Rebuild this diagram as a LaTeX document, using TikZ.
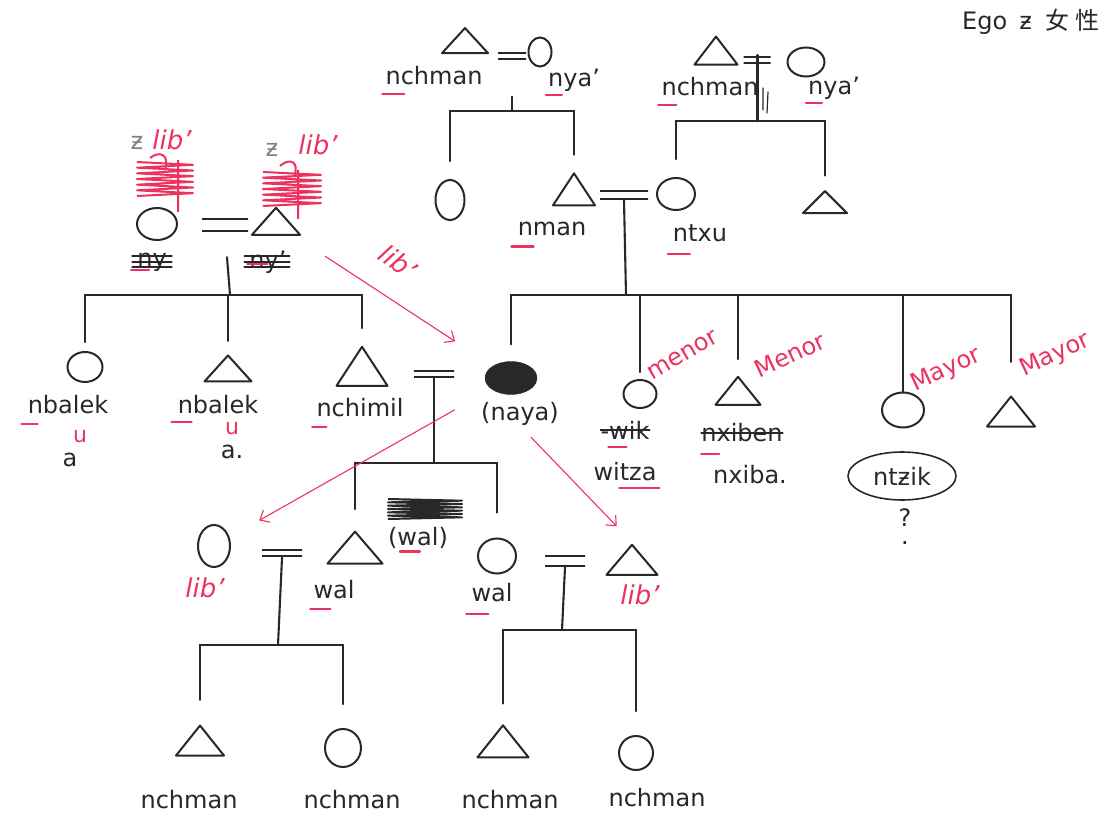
\documentclass[tikz,border=0pt]{standalone}
\usepackage{fontspec}
\setmainfont{DejaVu Sans}
\newfontfamily\cjk{Noto Sans CJK SC}
\usetikzlibrary{shapes.geometric,arrows.meta}
\definecolor{ink}{RGB}{40,40,40}
\definecolor{pen}{RGB}{236,50,95}
\tikzset{
  kin/.style={draw=ink, line width=2.1pt, line cap=round},
  male/.style={draw=ink, line width=2pt, line join=round, isosceles triangle, isosceles triangle stretches, shape border rotate=90, inner sep=0pt},
  female/.style={draw=ink, line width=2pt, ellipse, inner sep=0pt},
  ego/.style={draw=ink, fill=ink, ellipse, inner sep=0pt, minimum width=52pt, minimum height=33pt},
  wed/.style={inner sep=0pt, minimum width=#1, minimum height=9pt,
    path picture={\draw[kin] ([yshift=-1.1pt]path picture bounding box.north west) -- ([yshift=-1.1pt]path picture bounding box.north east)
      ([yshift=1.1pt]path picture bounding box.south west) -- ([yshift=1.1pt]path picture bounding box.south east);}},
  kinlabel/.style={text=ink, inner sep=0pt, font=\fontsize{24}{26}\selectfont},
  redlabel/.style={text=pen, inner sep=0pt, font=\fontsize{24}{26}\selectfont},
  uline/.style={draw=pen, line width=2.4pt, line cap=round},
  redarrow/.style={draw=pen, line width=1.1pt, -{Straight Barb[length=8pt,width=14pt]}},
}
% zigzag crossing-out: x, y, width, height, colour
\newcommand{\scrawl}[5]{%
  \draw[#5, line width=2pt, line join=round] (#1,#2) \foreach \k in {1,...,12} { -- ({#1+mod(\k,2)*#3},{#2+\k*#4/12}) };
}
\begin{document}
\begin{tikzpicture}[x=1pt,y=-1pt]
\fill[white] (0,0) rectangle (1119,821);
\useasboundingbox (0,0) rectangle (1119,821);
\clip (0,0) rectangle (1119,821);
% Note in the corner
\node[kinlabel, anchor=west] (egonote) at (962,22) {Ego\hspace{12pt}ƶ\hspace{14pt}{\cjk 女\hspace{6pt}性}};
% Generation 1: left couple
\node[male, minimum width=46pt, minimum height=25pt] (gpa1) at (465,43) {};
\node[wed=28pt] (m1) at (512,56) {};
\node[female, minimum width=23pt, minimum height=29pt] (gma1) at (540,52) {};
\node[kinlabel] (lgpa1) at (434,76) {nchman};
\node[kinlabel] (lgma1) at (574,80) {nya'};
\draw[uline] ([shift={(-3,9)}]lgpa1.base west) -- ++(22,0);
\draw[uline] ([shift={(-2,9)}]lgma1.base west) -- ++(16,0);
% Generation 1: right couple
\node[male, minimum width=43pt, minimum height=28pt] (gpa2) at (716,54) {};
\node[wed=27pt] (m2) at (757,60) {};
\node[female, minimum width=37pt, minimum height=29pt] (gma2) at (806,62) {};
\node[kinlabel] (lgpa2) at (710,87) {nchman};
\node[kinlabel] (lgma2) at (834,88) {nya'};
\draw[uline] ([shift={(-3,9)}]lgpa2.base west) -- ++(18,0);
\draw[uline] ([shift={(-2,9)}]lgma2.base west) -- ++(16,0);
\draw[kin, line width=1.2pt] (763,88) -- (763,110) (768,92) -- (767,113);
% Generation 2
\node[female, minimum width=29pt, minimum height=40pt] (aunt1) at (450,200) {};
\node[male, minimum width=42pt, minimum height=32pt] (nman) at (574,194) {};
\node[wed=48pt, minimum height=10pt] (m3) at (624,195) {};
\node[female, minimum width=38pt, minimum height=32pt] (ntxu) at (676,194) {};
\node[male, minimum width=44pt, minimum height=22pt] (uncle2) at (825,204) {};
\node[kinlabel] (lnman) at (552,229) {nman};
\node[kinlabel] (lntxu) at (700,233) {ntxu};
\draw[uline] ([shift={(-6,11)}]lnman.base west) -- ++(22,0);
\draw[uline] ([shift={(-5,13)}]lntxu.base west) -- ++(22,0);
% Generation 2: couple on the left
\node[female, minimum width=40pt, minimum height=32pt] (pgma) at (157,224) {};
\node[wed=46pt, minimum height=14pt] (m4) at (225,225) {};
\node[male, minimum width=48pt, minimum height=27pt] (pgpa) at (276,224) {};
\node[kinlabel, text=gray] (z1) at (137,143) {ƶ};
\node[redlabel, font=\fontsize{26}{28}\selectfont\itshape] (llib1) at (172,140) {lib'};
\node[kinlabel, text=gray] (z2) at (272,150) {ƶ};
\node[redlabel, font=\fontsize{26}{28}\selectfont\itshape] (llib2) at (318,145) {lib'};
\scrawl{137}{162}{56}{34}{pen}
\draw[pen, line width=2pt] (178,160) -- (178,212) (150,158) .. controls (160,150) and (170,155) .. (165,170);
\scrawl{263}{172}{58}{34}{pen}
\draw[pen, line width=2pt] (298,170) -- (298,219) (280,166) .. controls (290,157) and (300,162) .. (294,177);
\node[kinlabel] (lpgma) at (152,262) {ny};
\node[kinlabel] (lpgpa) at (268,262) {ny'};
\foreach \d in {-6,0,5} {
  \draw[kin, line width=1.5pt] ([shift={(-5,\d)}]lpgma.west) -- ([shift={(5,\d)}]lpgma.east);
  \draw[kin, line width=1.5pt] ([shift={(-5,\d)}]lpgpa.west) -- ([shift={(3,\d)}]lpgpa.east);
}
\draw[uline] ([shift={(-6,4)}]lpgma.base west) -- ++(18,0);
\draw[uline] ([shift={(-2,-4)}]lpgpa.base west) -- ++(20,0);
% Generation 3: children on the left
\node[female, minimum width=35pt, minimum height=30pt] (sib1) at (85,367) {};
\node[male, minimum width=47pt, minimum height=26pt] (sib2) at (228,371) {};
\node[male, minimum width=51pt, minimum height=39pt] (nchimil) at (362,372) {};
\node[kinlabel] (lsib1) at (68,405) {nbalek};
\node[kinlabel] (lsib2) at (218,405) {nbalek};
\node[kinlabel] (lnchimil) at (360,408) {nchimil};
\draw[uline] ([shift={(-6,10)}]lsib1.base west) -- ++(16,0);
\draw[uline] ([shift={(-6,8)}]lsib2.base west) -- ++(20,0);
\draw[uline] ([shift={(-4,10)}]lnchimil.base west) -- ++(14,0);
\node[redlabel, font=\fontsize{22}{24}\selectfont] (u1) at (80,436) {u};
\node[redlabel, font=\fontsize{22}{24}\selectfont] (u2) at (232,428) {u};
\node[kinlabel] (a1) at (70,460) {a};
\node[kinlabel] (a2) at (232,452) {a.};
% Ego and her siblings
\node[ego] (naya) at (511,378) {};
\node[kinlabel] (lnaya) at (520,414) {(naya)};
\node[female, minimum width=33pt, minimum height=28pt] (sis1) at (640,394) {};
\node[male, minimum width=45pt, minimum height=28pt] (sis2) at (738,394) {};
\node[female, minimum width=42pt, minimum height=35pt] (sis3) at (903,410) {};
\node[male, minimum width=48pt, minimum height=30pt] (sis4) at (1011,415) {};
\node[redlabel, rotate=30] (lmenor1) at (683,355) {menor};
\node[redlabel, rotate=25] (lmenor2) at (790,355) {Menor};
\node[redlabel, rotate=25] (lmayor1) at (946,370) {Mayor};
\node[redlabel, rotate=25] (lmayor2) at (1055,355) {Mayor};
\node[kinlabel] (lwik) at (625,430) {-wik};
\draw[kin, line width=1.5pt] (lwik.west) -- (lwik.east);
\draw[uline] ([shift={(8,8)}]lwik.base west) -- ++(18,0);
\node[kinlabel] (lwitza) at (625,472) {witza};
\draw[uline] ([shift={(26,7)}]lwitza.base west) -- ++(40,0);
\node[kinlabel] (lnxiben) at (742,433) {nxiben};
\draw[kin, line width=1.5pt] (lnxiben.west) -- (lnxiben.east);
\draw[uline] ([shift={(0,12)}]lnxiben.base west) -- ++(18,0);
\node[kinlabel] (lnxiba) at (750,475) {nxiba.};
\node[kinlabel, draw=ink, line width=1.6pt, ellipse, minimum width=108pt, minimum height=48pt] (lntzik) at (902,476) {ntƶik};
\node[kinlabel] (lquery) at (905,518) {?};
\node[kinlabel] (lqdot) at (905,543) {.};
% Generation 4: Ego's children and their spouses
\node[wed=40pt, minimum height=8pt] (m5) at (434,374) {};
\node[female, minimum width=32pt, minimum height=42pt] (libf) at (214,546) {};
\node[redlabel, font=\fontsize{26}{28}\selectfont\itshape] (llibf) at (205,588) {lib'};
\node[wed=40pt] (m6) at (282,553) {};
\node[male, minimum width=55pt, minimum height=32pt] (walm) at (355,551) {};
\node[kinlabel] (lwalm) at (334,590) {wal};
\draw[uline] ([shift={(-3,10)}]lwalm.base west) -- ++(20,0);
\node[kinlabel] (lwalx) at (418,538) {(wal)};
\draw[uline] ([shift={(12,6)}]lwalx.base west) -- ++(20,0);
\scrawl{388}{499}{74}{20}{ink}
\node[female, minimum width=38pt, minimum height=35pt] (walf) at (497,556) {};
\node[kinlabel] (lwalf) at (492,593) {wal};
\draw[uline] ([shift={(-5,12)}]lwalf.base west) -- ++(22,0);
\node[wed=40pt, minimum height=12pt] (m7) at (565,561) {};
\node[male, minimum width=51pt, minimum height=30pt] (libm) at (632,563) {};
\node[redlabel, font=\fontsize{26}{28}\selectfont\itshape] (llibm) at (640,595) {lib'};
% Generation 5
\node[male, minimum width=48pt, minimum height=30pt] (c1) at (200,744) {};
\node[female, minimum width=36pt, minimum height=38pt] (c2) at (343,748) {};
\node[male, minimum width=51pt, minimum height=32pt] (c3) at (503,745) {};
\node[female, minimum width=34pt, minimum height=34pt] (c4) at (636,753) {};
\node[kinlabel] (lc1) at (189,800) {nchman};
\node[kinlabel] (lc2) at (352,800) {nchman};
\node[kinlabel] (lc3) at (510,800) {nchman};
\node[kinlabel] (lc4) at (657,798) {nchman};
% Descent lines
\coordinate (bar1) at (512,111);
\draw[kin, shorten <=36pt] (m1.south) -- (bar1);
\draw[kin] (aunt1 |- bar1) -- (nman |- bar1);
\draw[kin, shorten >=18pt] (aunt1 |- bar1) -- (aunt1.north);
\draw[kin, shorten >=16pt] (nman |- bar1) -- (nman.apex);
\coordinate (bar2) at (757,121);
\draw[kin, line width=3pt] (m2.north) -- (bar2);
\draw[kin] (ntxu |- bar2) -- (uncle2 |- bar2);
\draw[kin, shorten >=18pt] (ntxu |- bar2) -- (ntxu.north);
\draw[kin, shorten >=13pt] (uncle2 |- bar2) -- (uncle2.apex);
\coordinate (bar3) at (626,295);
\draw[kin] (m3.south) -- (bar3);
\draw[kin] (naya |- bar3) -- (sis4 |- bar3);
\draw[kin, shorten >=17pt] (naya |- bar3) -- (naya.north);
\draw[kin, shorten >=7pt] (sis1 |- bar3) -- (sis1.north);
\draw[kin, shorten >=15pt] (sis2 |- bar3) -- (sis2.apex);
\draw[kin] (sis3 |- bar3) -- (sis3.north);
\draw[kin, shorten >=32pt] (sis4 |- bar3) -- (sis4.apex);
\coordinate (bar4) at (230,295);
\draw[kin, shorten <=25pt] (m4.south) -- (bar4);
\draw[kin] (sib1 |- bar4) -- (nchimil |- bar4);
\draw[kin, shorten >=9pt] (sib1 |- bar4) -- (sib1.north);
\draw[kin, shorten >=12pt] (sib2 |- bar4) -- (sib2.apex);
\draw[kin, shorten >=16pt] (nchimil |- bar4) -- (nchimil.apex);
\coordinate (bar5) at (434,463);
\draw[kin] (m5.south) -- (bar5);
\draw[kin] (walm |- bar5) -- (walf |- bar5);
\draw[kin, shorten >=20pt] (walm |- bar5) -- (walm.apex);
\draw[kin, shorten >=25pt] (walf |- bar5) -- (walf.north);
\coordinate (bar6) at (278,645);
\draw[kin] (m6.south) -- (bar6);
\draw[kin] (c1 |- bar6) -- (c2 |- bar6);
\draw[kin, shorten >=23pt] (c1 |- bar6) -- (c1.apex);
\draw[kin, shorten >=24pt] (c2 |- bar6) -- (c2.north);
\coordinate (bar7) at (562,630);
\draw[kin] (m7.south) -- (bar7);
\draw[kin] (c3 |- bar7) -- (c4 |- bar7);
\draw[kin, shorten >=19pt] (c3 |- bar7) -- (c3.apex);
\draw[kin, shorten >=24pt] (c4 |- bar7) -- (c4.north);
% Red arrows
\draw[redarrow, shorten <=37pt, shorten >=45pt] (pgpa) -- (naya);
\node[redlabel, font=\fontsize{26}{28}\selectfont\itshape, rotate=-36] (lliba) at (398,262) {lib'};
\draw[redarrow, shorten <=42pt, shorten >=34pt] (naya) -- (libf);
\draw[redarrow, shorten <=16pt, shorten >=22pt] (lnaya.south) -- (libm.apex);
\end{tikzpicture}
\end{document}
